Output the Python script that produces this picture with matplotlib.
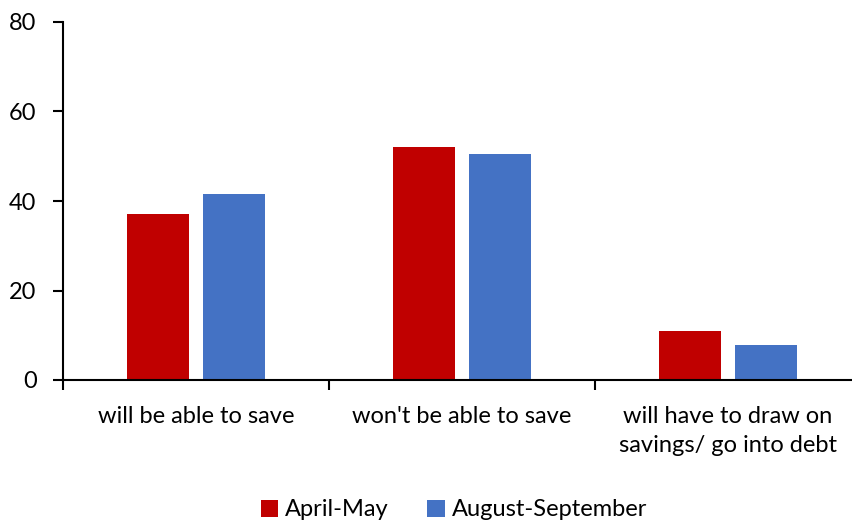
import matplotlib.pyplot as plt
import numpy as np

plt.rcParams['font.family'] = ['Lato', 'DejaVu Sans']

categories = ['will be able to save', "won't be able to save",
              'will have to draw on\nsavings/ go into debt']
april_may = [37.0, 52.1, 11.0]
aug_sep = [41.6, 50.5, 7.8]

fig = plt.figure(figsize=(8.53, 5.23), dpi=100)
ax = fig.add_axes([63 / 853, 1 - 380 / 523, 798 / 853, 358 / 523])

x = np.arange(len(categories))
w = 0.23
ax.bar(x - 0.143, april_may, w, color='#C00000', label='April-May')
ax.bar(x + 0.143, aug_sep, w, color='#4472C4', label='August-September')

ax.set_xlim(-0.5, 2.5)
ax.set_ylim(0, 80)
ax.set_yticks([0, 20, 40, 60, 80])
ax.set_yticklabels(['0', '20', '40', '60', '80'], fontsize=17)

ax.set_xticks(x)
ax.set_xticklabels(categories, fontsize=17, linespacing=1.45)
ax.tick_params(axis='x', length=0, pad=19)
ax.set_xticks([-0.5, 0.5, 1.5, 2.5], minor=True)
ax.tick_params(axis='x', which='minor', length=7, width=1.5)
ax.tick_params(axis='y', length=7, width=1.5, pad=12)

for s in ['top', 'right']:
    ax.spines[s].set_visible(False)
ax.spines['left'].set_linewidth(1.5)
ax.spines['bottom'].set_linewidth(1.5)

fig.legend(loc='center', bbox_to_anchor=(0.532, 1 - 510 / 523), ncol=2, frameon=False,
           fontsize=17, handlelength=0.75, handleheight=0.75, handletextpad=0.3,
           columnspacing=1.6)

plt.savefig('out.png', dpi=100)
